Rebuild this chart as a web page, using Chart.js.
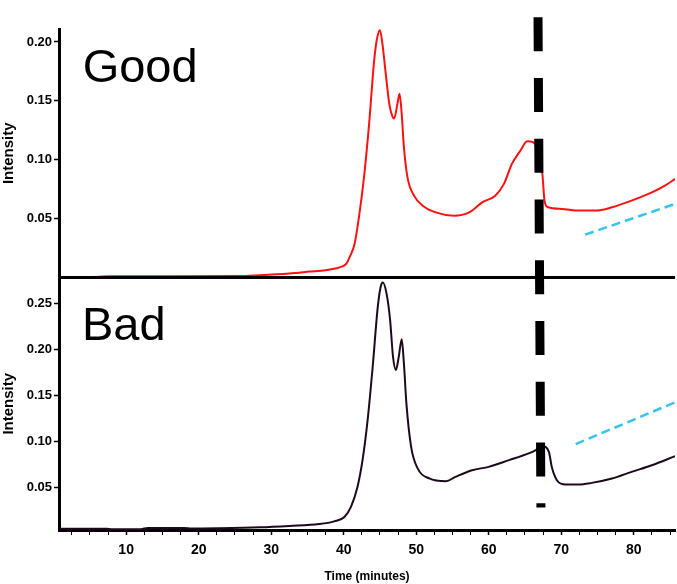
<!DOCTYPE html>
<html>
<head>
<meta charset="utf-8">
<title>Intensity vs time</title>
<script src="https://cdn.jsdelivr.net/npm/chart.js@4.4.1/dist/chart.umd.min.js"></script>
<style>
  html, body { margin: 0; padding: 0; background: #ffffff; }
  #wrap { width: 677px; height: 584px; position: relative; }
</style>
</head>
<body>
<div id="wrap"><canvas id="chart" width="677" height="584"></canvas></div>
<script>
// Chromatogram traces (time in minutes, intensity)
const goodTime = [0.8, 5.0, 7.8, 15, 25.4, 28.4, 32.5, 35.3, 37.5, 39.0, 39.8, 40.4, 40.8, 41.5, 42.1, 42.8, 43.5, 44.2, 44.6, 45.0, 45.35, 45.8, 46.3, 46.7, 46.96, 47.4, 47.7, 48.0, 48.3, 48.8, 49.7, 50.9, 52.7, 55.2, 57.3, 59.1, 60.9, 62.1, 63.2, 64.4, 65.3, 66.1, 66.7, 67.1, 67.4, 67.7, 68.2, 70.1, 72.4, 74.7, 77.0, 79.7, 82.5, 84.3, 85.7];
const goodIntensity = [0.0002, 0.0003, 0.0011, 0.0011, 0.0012, 0.002, 0.0035, 0.005, 0.0062, 0.0079, 0.0094, 0.012, 0.017, 0.0285, 0.051, 0.085, 0.130, 0.184, 0.203, 0.210, 0.198, 0.173, 0.147, 0.137, 0.135, 0.147, 0.156, 0.139, 0.111, 0.085, 0.0695, 0.061, 0.0553, 0.0525, 0.0553, 0.0638, 0.0695, 0.0795, 0.0965, 0.108, 0.1157, 0.1149, 0.109, 0.098, 0.088, 0.065, 0.0596, 0.0582, 0.0568, 0.0568, 0.0596, 0.0653, 0.0723, 0.078, 0.0837];

const badTime = [0.8, 7.3, 8.0, 12, 13, 18, 19, 22.6, 28.4, 32.5, 36.6, 38.7, 40.1, 41.0, 41.9, 42.6, 43.3, 44.0, 44.7, 45.1, 45.4, 45.9, 46.4, 46.8, 47.2, 47.6, 48.0, 48.3, 48.65, 49.3, 50.2, 51.8, 54.1, 55.4, 57.7, 60.0, 62.8, 65.5, 66.5, 67.4, 68.3, 68.7, 69.4, 70.6, 72.4, 74.2, 77.0, 79.7, 82.5, 85.7];
const badIntensity = [0.005, 0.005, 0.0045, 0.0045, 0.0058, 0.0058, 0.0052, 0.0055, 0.0065, 0.008, 0.010, 0.013, 0.0178, 0.0287, 0.0504, 0.0795, 0.123, 0.181, 0.246, 0.268, 0.2726, 0.261, 0.232, 0.192, 0.1775, 0.192, 0.211, 0.185, 0.141, 0.094, 0.0705, 0.0596, 0.0566, 0.0613, 0.0686, 0.0722, 0.0795, 0.0868, 0.0904, 0.0947, 0.0885, 0.072, 0.0577, 0.053, 0.053, 0.0548, 0.0596, 0.0668, 0.074, 0.0839];

// Rising baseline guides
const trendGoodTime = [73.3, 85.7];
const trendGoodIntensity = [0.0364, 0.0625];
const trendBadTime = [72.0, 85.7];
const trendBadIntensity = [0.097, 0.1424];

// Cut-off marker (time at top / bottom end, intensity span on each panel)
const markerTime = [66.8, 67.2];
const markerSpan = [0.221, 0.028];

const panelNames = ['Good', 'Bad'];
const xTickLabels = [10, 20, 30, 40, 50, 60, 70, 80];

const pts = (xs, ys) => xs.map((x, i) => ({ x: x, y: ys[i] }));

const narrow = '"Liberation Sans Narrow", "Liberation Sans", Arial, sans-serif';
const regular = '"Liberation Sans", Arial, sans-serif';

const panelOverlay = {
  id: 'panelOverlay',
  afterDatasetsDraw(chart) {
    const { ctx, chartArea, scales } = chart;
    const x = scales.x, yTop = scales.yTop, yBot = scales.yBot;
    ctx.save();

    // divider between the two panels
    ctx.strokeStyle = '#000';
    ctx.lineWidth = 3;
    const yDiv = yTop.getPixelForValue(yTop.min);
    ctx.beginPath();
    ctx.moveTo(chartArea.left, yDiv);
    ctx.lineTo(chartArea.right, yDiv);
    ctx.stroke();

    // dashed cut-off marker across both panels
    ctx.lineWidth = 9;
    ctx.lineCap = 'butt';
    ctx.setLineDash([34, 26.75]);
    ctx.beginPath();
    ctx.moveTo(x.getPixelForValue(markerTime[0]), yTop.getPixelForValue(markerSpan[0]));
    ctx.lineTo(x.getPixelForValue(markerTime[1]), yBot.getPixelForValue(markerSpan[1]));
    ctx.stroke();
    ctx.setLineDash([]);

    // panel names
    ctx.fillStyle = '#000';
    ctx.font = '47px ' + regular;
    ctx.textAlign = 'left';
    ctx.textBaseline = 'alphabetic';
    ctx.fillText(panelNames[0], x.getPixelForValue(4.0), yTop.getPixelForValue(0.166));
    ctx.fillText(panelNames[1], x.getPixelForValue(3.9), yBot.getPixelForValue(0.210));
    ctx.restore();
  }
};

const yTicks = {
  color: '#000',
  padding: 2,
  font: { family: narrow, size: 13, weight: 'bold' },
  stepSize: 0.05,
  includeBounds: false,
  callback: v => v.toFixed(2)
};

const yCommon = (min, max, weight, stackWeight) => ({
  type: 'linear',
  position: 'left',
  stack: 'panels',
  weight: weight,
  stackWeight: stackWeight,
  offset: false,
  min: min,
  max: max,
  border: { display: true, color: '#000', width: 3 },
  grid: { drawOnChartArea: false, drawTicks: true, tickLength: 5, tickColor: '#000', tickWidth: 1.5 },
  ticks: yTicks,
  title: {
    display: true,
    text: 'Intensity',
    color: '#000',
    padding: { top: 0, bottom: 0 },
    font: { family: regular, size: 15, weight: 'bold' }
  },
  afterBuildTicks: s => { s.ticks = s.ticks.filter(t => t.value > 0.01); },
  afterFit: s => { s.width = 59; }
});

new Chart(document.getElementById('chart'), {
  type: 'line',
  data: {
    datasets: [
      { label: 'Good', data: pts(goodTime, goodIntensity), yAxisID: 'yTop', borderColor: '#ff1010', borderWidth: 2, pointRadius: 0, cubicInterpolationMode: 'monotone' },
      { label: 'Bad', data: pts(badTime, badIntensity), yAxisID: 'yBot', borderColor: '#1c0a1c', borderWidth: 2, pointRadius: 0, cubicInterpolationMode: 'monotone' },
      { label: 'Good baseline', data: pts(trendGoodTime, trendGoodIntensity), yAxisID: 'yTop', borderColor: '#35c3f2', borderWidth: 2.5, borderDash: [9, 5], pointRadius: 0 },
      { label: 'Bad baseline', data: pts(trendBadTime, trendBadIntensity), yAxisID: 'yBot', borderColor: '#35c3f2', borderWidth: 2.5, borderDash: [9, 5], pointRadius: 0 }
    ]
  },
  options: {
    responsive: false,
    animation: false,
    layout: { padding: { top: 29, right: 0, left: 0, bottom: 0 } },
    plugins: { legend: { display: false }, tooltip: { enabled: false } },
    scales: {
      x: {
        type: 'linear',
        position: 'bottom',
        min: 0.74,
        max: 85.7,
        border: { display: true, color: '#000', width: 3 },
        grid: {
          drawOnChartArea: false, drawTicks: true, tickLength: 5, tickColor: '#000',
          tickWidth: c => (c.tick && xTickLabels.includes(c.tick.value)) ? 1.5 : 1
        },
        ticks: {
          color: '#000',
          stepSize: 2.5,
          includeBounds: false,
          autoSkip: false,
          maxRotation: 0,
          padding: 7,
          font: { family: narrow, size: 14, weight: 'bold' },
          callback: v => xTickLabels.includes(v) ? String(v) : ''
        },
        title: {
          display: true,
          text: 'Time (minutes)',
          color: '#000',
          padding: { top: 0, bottom: 0 },
          font: { family: narrow, size: 12, weight: 'bold' }
        },
        afterFit: s => { s.height = 54; }
      },
      yTop: yCommon(0, 0.211, 2, 248.5),
      yBot: yCommon(0.0036, 0.278, 1, 252.5)
    }
  },
  plugins: [panelOverlay]
});
</script>
</body>
</html>
